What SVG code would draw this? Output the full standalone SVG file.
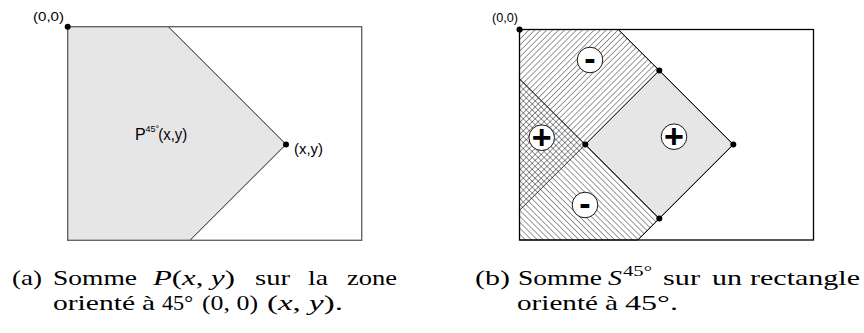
<svg xmlns="http://www.w3.org/2000/svg" width="864" height="333" viewBox="0 0 864 333">
<style>
.lbl{font-family:"Liberation Sans",Arial,sans-serif;fill:#000}
.cap{font-family:"Liberation Serif","Times New Roman",serif;font-size:22px;fill:#000}
.it{font-style:italic}
.sign{font-family:"Liberation Sans",Arial,sans-serif;font-size:34px;font-weight:bold;text-anchor:middle;fill:#000}
.dot{fill:#000}
.edge{fill:none;stroke:#000;stroke-width:0.9}
.circ{fill:#fff;stroke:#000;stroke-width:0.9}
</style>
<defs>
<pattern id="hatchA" patternUnits="userSpaceOnUse" width="4.2" height="4.2" patternTransform="rotate(45)">
<line x1="0" y1="0" x2="0" y2="4.2" stroke="#000" stroke-width="0.8"/>
</pattern>
<pattern id="hatchB" patternUnits="userSpaceOnUse" width="4.2" height="4.2" patternTransform="rotate(-45)">
<line x1="0" y1="0" x2="0" y2="4.2" stroke="#000" stroke-width="0.8"/>
</pattern>
</defs>

<!-- Figure (a) -->
<g id="figA">
<rect x="67.7" y="26.7" width="294" height="213.6" fill="#fff" stroke="none"/>
<polygon points="67.7,26.7 168.3,26.7 286,144.4 190,240.3 67.7,240.3" fill="#e6e6e6" stroke="none"/>
<path d="M168.3,26.7 L286,144.4 L190,240.3" class="edge"/>
<rect x="67.7" y="26.7" width="294" height="213.6" fill="none" stroke="#666" stroke-width="1.4"/>
<circle cx="67.7" cy="26.7" r="3" class="dot"/>
<circle cx="286" cy="144.4" r="3" class="dot"/>
<text class="lbl" x="33" y="21" font-size="13" textLength="31" lengthAdjust="spacingAndGlyphs">(0,0)</text>
<text class="lbl" x="294" y="154" font-size="14" textLength="29" lengthAdjust="spacingAndGlyphs">(x,y)</text>
<text class="lbl" x="135" y="140" font-size="16">P</text>
<text class="lbl" x="145.5" y="132.3" font-size="9">45°</text>
<text class="lbl" x="158.3" y="140" font-size="16" textLength="29" lengthAdjust="spacingAndGlyphs">(x,y)</text>
</g>

<!-- Figure (b) -->
<g id="figB">
<rect x="519.5" y="29.5" width="294" height="210.5" fill="#fff" stroke="none"/>
<polygon id="upperRegion" points="519.5,29.5 618.3,29.5 659.3,70.5 519.5,210.3" fill="url(#hatchA)" stroke="#000" stroke-width="0.8"/>
<polygon id="lowerRegion" points="519.5,78.7 659.3,218.5 637.8,240 519.5,240" fill="url(#hatchB)" stroke="#000" stroke-width="0.8"/>
<polygon id="square" points="585.3,144.5 659.3,70.5 733.3,144.5 659.3,218.5" fill="#e6e6e6" stroke="#000" stroke-width="0.9"/>
<rect x="519.5" y="29.5" width="294" height="210.5" fill="none" stroke="#000" stroke-width="1.3"/>
<path d="M618.3,29.5 L733.3,144.5 L637.8,240" class="edge"/>
<circle cx="519.5" cy="29.5" r="3" class="dot"/>
<circle cx="659.3" cy="70.5" r="3" class="dot"/>
<circle cx="733.3" cy="144.5" r="3" class="dot"/>
<circle cx="585.3" cy="144.5" r="3" class="dot"/>
<circle cx="659.3" cy="218.5" r="3" class="dot"/>
<text class="lbl" x="492" y="22" font-size="12" textLength="26" lengthAdjust="spacingAndGlyphs">(0,0)</text>
<g id="signUpper"><circle cx="590" cy="60" r="12.8" class="circ"/><text class="sign" x="590" y="69.5">-</text></g>
<g id="signLeft"><circle cx="541.7" cy="137.7" r="12.8" class="circ"/><text class="sign" x="541.7" y="149">+</text></g>
<g id="signSquare"><circle cx="674" cy="136.7" r="12.8" class="circ"/><text class="sign" x="674" y="148">+</text></g>
<g id="signLower"><circle cx="585" cy="205" r="12.8" class="circ"/><text class="sign" x="585" y="214.5">-</text></g>
</g>

<!-- Caption (a) -->
<g id="captionA" class="cap">
<text x="12" y="285" textLength="30" lengthAdjust="spacingAndGlyphs">(a)</text>
<text x="53" y="285" textLength="84" lengthAdjust="spacingAndGlyphs">Somme</text>
<text x="153" y="285" textLength="82" lengthAdjust="spacingAndGlyphs"><tspan class="it">P</tspan>(<tspan class="it">x</tspan>, <tspan class="it">y</tspan>)</text>
<text x="255" y="285" textLength="35" lengthAdjust="spacingAndGlyphs">sur</text>
<text x="308" y="285" textLength="20" lengthAdjust="spacingAndGlyphs">la</text>
<text x="347" y="285" textLength="50" lengthAdjust="spacingAndGlyphs">zone</text>
<text x="53" y="310" textLength="82" lengthAdjust="spacingAndGlyphs">orienté</text>
<text x="142" y="310" textLength="13" lengthAdjust="spacingAndGlyphs">à</text>
<text x="162" y="310" textLength="31" lengthAdjust="spacingAndGlyphs">45°</text>
<text x="202" y="310" textLength="56" lengthAdjust="spacingAndGlyphs">(0, 0)</text>
<text x="267" y="310" textLength="76" lengthAdjust="spacingAndGlyphs">(<tspan class="it">x</tspan>, <tspan class="it">y</tspan>).</text>
</g>

<!-- Caption (b) -->
<g id="captionB" class="cap">
<text x="475" y="285" textLength="35" lengthAdjust="spacingAndGlyphs">(b)</text>
<text x="518" y="285" textLength="84" lengthAdjust="spacingAndGlyphs">Somme</text>
<text x="608" y="285" class="it" textLength="14" lengthAdjust="spacingAndGlyphs">S</text>
<text x="623" y="276" font-size="15" textLength="29" lengthAdjust="spacingAndGlyphs">45°</text>
<text x="663" y="285" textLength="37" lengthAdjust="spacingAndGlyphs">sur</text>
<text x="712" y="285" textLength="30" lengthAdjust="spacingAndGlyphs">un</text>
<text x="750" y="285" textLength="110" lengthAdjust="spacingAndGlyphs">rectangle</text>
<text x="517" y="310" textLength="81" lengthAdjust="spacingAndGlyphs">orienté</text>
<text x="605" y="310" textLength="13" lengthAdjust="spacingAndGlyphs">à</text>
<text x="625" y="310" textLength="53" lengthAdjust="spacingAndGlyphs">45°.</text>
</g>
</svg>
